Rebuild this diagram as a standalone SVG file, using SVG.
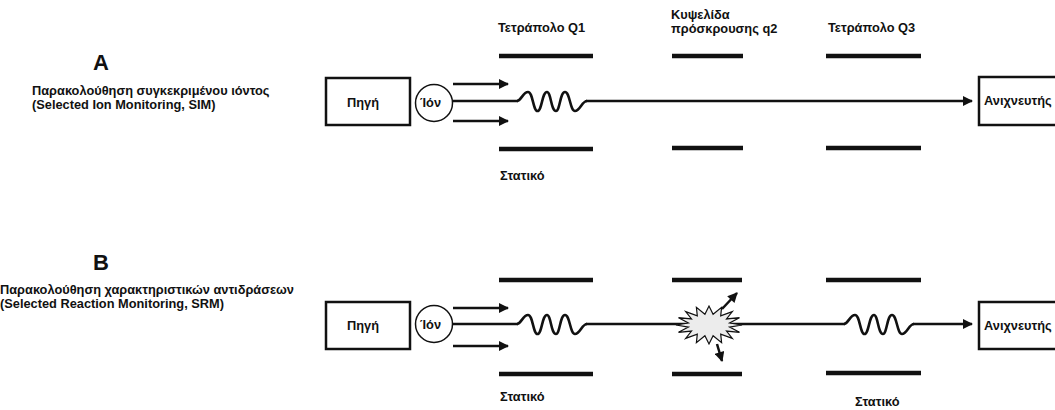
<svg xmlns="http://www.w3.org/2000/svg" width="1055" height="410" viewBox="0 0 1055 410">
  <style>
    text { font-family: "Liberation Sans", Arial, sans-serif; font-weight: bold; fill: #111; }
    .lbl { font-size: 12.8px; }
    .big { font-size: 22px; }
    .box { fill: #fff; stroke: #111; stroke-width: 2.5; }
    .ion { fill: #fff; stroke: #111; stroke-width: 1.5; }
    .plate { stroke: #111; stroke-width: 4.5; }
    .beam { fill: none; stroke: #111; stroke-width: 2.6; }
    .arr { fill: none; stroke: #111; stroke-width: 2.5; marker-end: url(#head); }
    .burst { fill: #ececec; stroke: #111; stroke-width: 1.2; }
  </style>
  <defs>
    <marker id="head" viewBox="0 0 10 10" refX="9" refY="5" markerWidth="11" markerHeight="10" markerUnits="userSpaceOnUse" orient="auto">
      <path d="M0,0 L10,5 L0,10 z" fill="#111"/>
    </marker>
    <!-- oscillating ion path inside a quadrupole -->
    <path id="wave" d="M517,0 C521,0 523,-9 528,-9 C533,-9 533,10 537.5,10 C542,10 542,-9 547,-9 C551,-9 551,10 556,10 C560,10 560,-9 565,-9 C570,-9 570,10 575,10 C580,10 582,0 587,0"/>
  </defs>

  <rect width="1055" height="410" fill="#fff"/>

  <!-- column headers -->
  <g id="headers">
    <text class="lbl" x="498" y="32">Τετράπολο Q1</text>
    <text class="lbl" x="671" y="19">Κυψελίδα</text>
    <text class="lbl" x="671" y="33">πρόσκρουσης q2</text>
    <text class="lbl" x="828" y="32">Τετράπολο Q3</text>
  </g>

  <!-- ===== A : SIM ===== -->
  <g id="titleA">
    <text class="big" x="93" y="70">A</text>
    <text class="lbl" x="32" y="95">Παρακολούθηση συγκεκριμένου ιόντος</text>
    <text class="lbl" x="32" y="109">(Selected Ion Monitoring, SIM)</text>
  </g>

  <g id="plates-A">
    <line class="plate" x1="499" y1="56" x2="593" y2="56"/>
    <line class="plate" x1="499" y1="149" x2="593" y2="149"/>
    <line class="plate" x1="672" y1="56" x2="743" y2="56"/>
    <line class="plate" x1="672" y1="148" x2="743" y2="148"/>
    <line class="plate" x1="826" y1="56" x2="921" y2="56"/>
    <line class="plate" x1="826" y1="148" x2="921" y2="148"/>
    <text class="lbl" x="500" y="180">Στατικό</text>
  </g>

  <g id="connectors-A">
    <line class="arr" x1="453" y1="84" x2="508" y2="84"/>
    <line class="arr" x1="453" y1="121" x2="508" y2="121"/>
    <line class="beam" x1="453" y1="101" x2="518" y2="101"/>
    <use href="#wave" class="beam" transform="translate(0,101)"/>
    <line class="arr" x1="586" y1="101" x2="972" y2="101"/>
  </g>

  <g id="sourceA">
    <rect class="box" x="326" y="78" width="84" height="47"/>
    <text class="lbl" x="347" y="107">Πηγή</text>
  </g>
  <g id="ionA">
    <circle class="ion" cx="434" cy="103" r="18.5"/>
    <text class="lbl" x="420" y="107">Ίόν</text>
  </g>
  <g id="detectorA">
    <rect class="box" x="979" y="77" width="100" height="48"/>
    <text class="lbl" x="984" y="105">Ανιχνευτής</text>
  </g>

  <!-- ===== B : SRM ===== -->
  <g id="titleB">
    <text class="big" x="93" y="270">B</text>
    <text class="lbl" x="0" y="294">Παρακολούθηση χαρακτηριστικών αντιδράσεων</text>
    <text class="lbl" x="0" y="308">(Selected Reaction Monitoring, SRM)</text>
  </g>

  <g id="plates-B">
    <line class="plate" x1="499" y1="280" x2="593" y2="280"/>
    <line class="plate" x1="499" y1="374" x2="593" y2="374"/>
    <line class="plate" x1="672" y1="280" x2="742" y2="280"/>
    <line class="plate" x1="672" y1="374" x2="742" y2="374"/>
    <line class="plate" x1="826" y1="280" x2="921" y2="280"/>
    <line class="plate" x1="826" y1="373" x2="921" y2="373"/>
    <text class="lbl" x="500" y="401">Στατικό</text>
    <text class="lbl" x="855" y="406">Στατικό</text>
  </g>

  <g id="connectors-B">
    <line class="arr" x1="453" y1="308" x2="508" y2="308"/>
    <line class="arr" x1="453" y1="346" x2="508" y2="346"/>
    <line class="beam" x1="453" y1="324" x2="518" y2="324"/>
    <use href="#wave" class="beam" transform="translate(0,324)"/>
    <line class="beam" x1="586" y1="324" x2="845" y2="324"/>
    <use href="#wave" class="beam" transform="translate(327,324)"/>
    <line class="arr" x1="913" y1="324" x2="972" y2="324"/>
  </g>

  <g id="collision">
    <polygon class="burst" points="742,325 729.6,327.1 739.5,332.3 726.5,331.1 732.3,338.4 720.7,334.1 721.6,342.6 713.1,335.8 709,344 704.9,335.8 696.4,342.6 697.3,334.1 685.7,338.4 691.5,331.1 678.5,332.3 688.4,327.1 676,325 688.4,322.9 678.5,317.7 691.5,318.9 685.7,311.6 697.3,315.9 696.4,307.4 704.9,314.2 709,306 713.1,314.2 721.6,307.4 720.7,315.9 732.3,311.6 726.5,318.9 739.5,317.7 729.6,322.9"/>
    <line class="arr" x1="722" y1="309" x2="737" y2="293"/>
    <line class="arr" x1="717" y1="344" x2="722" y2="361"/>
  </g>

  <g id="sourceB">
    <rect class="box" x="326" y="302" width="84" height="47"/>
    <text class="lbl" x="347" y="330">Πηγή</text>
  </g>
  <g id="ionB">
    <circle class="ion" cx="434" cy="324" r="18.5"/>
    <text class="lbl" x="420" y="329">Ίόν</text>
  </g>
  <g id="detectorB">
    <rect class="box" x="979" y="302" width="100" height="47"/>
    <text class="lbl" x="984" y="330">Ανιχνευτής</text>
  </g>
</svg>
